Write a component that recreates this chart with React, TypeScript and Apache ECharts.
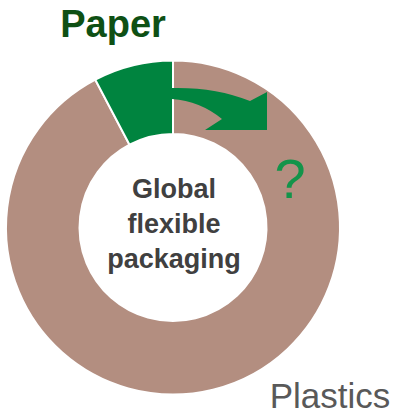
import React, { useEffect, useRef } from "react";
import * as echarts from "echarts";

const categories = ["Plastics", "Paper"];
const shares = [92.3, 7.7];
const centerLines = ["Global", "flexible", "packaging"];
const question = "?";

const ARROW_D =
  "M172,88 Q215,87 250,101 L267,92 L267,130 L205,130 L222,119 Q200,101 172,99 Z";

export default function App() {
  const ref = useRef<HTMLDivElement>(null);
  useEffect(() => {
    document.body.style.margin = "0";
    try {
      echarts.graphic.registerShape("arrowShape", echarts.graphic.extendPath(ARROW_D, {}) as any);
    } catch (e) {}
    const chart = echarts.init(ref.current!, null, { renderer: "svg" });
    const colors = ["#B38E80", "#00843F"];
    chart.setOption({
      animation: false,
      series: [
        {
          type: "pie",
          center: [173, 227.5],
          radius: [93.5, 167],
          startAngle: 90,
          clockwise: true,
          label: { show: false },
          labelLine: { show: false },
          silent: true,
          itemStyle: { borderColor: "#fff", borderWidth: 2 },
          data: categories.map((c, i) => ({
            name: c,
            value: shares[i],
            itemStyle: { color: colors[i] },
          })),
        },
      ],
      graphic: [
        {
          type: "arrowShape",
          x: 0,
          y: 0,
          style: { fill: "#00843F" },
          z: 10,
        },
        {
          type: "text",
          x: 113,
          y: 24,
          style: {
            text: categories[1],
            fill: "#0E5014",
            font: "bold 38px 'Liberation Sans', Arial, sans-serif",
            textAlign: "center",
            textVerticalAlign: "middle",
          },
        },
        {
          type: "text",
          x: 330,
          y: 395,
          style: {
            text: categories[0],
            fill: "#595959",
            font: "35px 'Liberation Sans', Arial, sans-serif",
            textAlign: "center",
            textVerticalAlign: "middle",
          },
        },
        {
          type: "text",
          x: 290,
          y: 178,
          z: 10,
          style: {
            text: question,
            fill: "#13944A",
            font: "56px 'Liberation Sans', Arial, sans-serif",
            textAlign: "center",
            textVerticalAlign: "middle",
          },
        },
        ...centerLines.map((t, i) => ({
          type: "text",
          x: 174,
          y: 189 + i * 35,
          style: {
            text: t,
            fill: "#404040",
            font: "bold 27px 'Liberation Sans', Arial, sans-serif",
            textAlign: "center",
            textVerticalAlign: "middle",
          },
        })),
      ],
    });
    return () => chart.dispose();
  }, []);
  return <div ref={ref} style={{ width: 398, height: 415 }} />;
}
